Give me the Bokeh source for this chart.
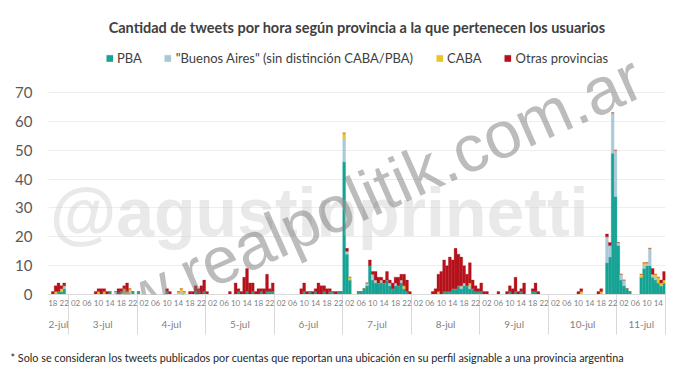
from bokeh.plotting import figure
from bokeh.models import (ColumnDataSource, FixedTicker, LinearAxis, Legend, LegendItem,
                          Title, Range1d, Label)
from bokeh.embed import file_html
from bokeh.resources import INLINE

# ---------------- data ----------------
days = ["2-jul", "3-jul", "4-jul", "5-jul", "6-jul", "7-jul", "8-jul", "9-jul", "10-jul", "11-jul"]
day_start_hour = [17, 0, 0, 0, 0, 0, 0, 0, 0, 0]
day_end_hour = [23, 23, 23, 23, 23, 23, 23, 23, 23, 16]

series_names = ["PBA", '"Buenos Aires" (sin distinción CABA/PBA)', "CABA", "Otras provincias"]

pba = [
    0, 0, 0, 1, 1, 2, 0,
    0, 0, 0, 0, 0, 0, 0, 0, 0, 0, 0, 0, 0, 0, 1, 0, 0, 0, 1, 0, 0, 0, 1, 0,
    1, 0, 0, 0, 0, 0, 0, 0, 0, 0, 1, 0, 0, 0, 0, 0, 0, 0, 0, 0, 1, 0, 0, 1,
    0, 0, 0, 0, 0, 0, 0, 0, 0, 0, 0, 1, 0, 0, 1, 0, 1, 0, 0, 1, 0, 1, 1, 1,
    0, 0, 0, 0, 0, 0, 0, 0, 0, 0, 1, 0, 1, 0, 1, 0, 0, 1, 0, 1, 1, 0, 1, 1,
    46, 14, 5, 0, 0, 1, 1, 2, 3, 10, 5, 4, 4, 4, 4, 5, 3, 2, 3, 3, 4, 2, 1, 0,
    0, 0, 0, 0, 0, 0, 0, 0, 0, 0, 0, 1, 1, 1, 2, 2, 3, 2, 3, 3, 2, 2, 1, 1,
    1, 0, 0, 0, 0, 0, 0, 0, 0, 0, 1, 0, 1, 0, 1, 0, 0, 0, 1, 1, 0, 0, 0, 0,
    0, 0, 0, 0, 0, 0, 0, 0, 0, 0, 0, 0, 0, 0, 0, 0, 0, 0, 0, 0, 11, 13, 49, 34,
    17, 5, 3, 2, 1, 0, 0, 0, 6, 9, 10, 10, 6, 5, 4, 3, 4,
]
buenos_aires = [
    0, 0, 0, 0, 0, 1, 0,
    0, 0, 0, 0, 0, 0, 0, 0, 0, 0, 0, 0, 0, 0, 0, 0, 1, 0, 0, 0, 0, 1, 0, 0,
    0, 0, 0, 0, 0, 0, 0, 0, 0, 0, 0, 0, 0, 0, 0, 1, 0, 0, 0, 0, 0, 0, 0, 0,
    0, 0, 0, 0, 0, 0, 0, 0, 0, 0, 0, 0, 0, 0, 0, 0, 0, 0, 0, 0, 0, 0, 0, 0,
    0, 0, 0, 0, 0, 0, 0, 0, 0, 0, 0, 0, 0, 0, 0, 0, 0, 0, 0, 0, 0, 0, 0, 0,
    8, 1, 0, 0, 0, 0, 0, 0, 1, 0, 2, 1, 0, 1, 0, 0, 1, 0, 1, 0, 1, 0, 0, 0,
    0, 0, 0, 0, 0, 0, 0, 0, 0, 0, 0, 0, 0, 0, 0, 0, 0, 1, 1, 0, 1, 0, 0, 0,
    0, 0, 0, 0, 0, 0, 0, 0, 0, 0, 0, 0, 0, 0, 0, 0, 0, 0, 0, 0, 0, 0, 0, 0,
    0, 0, 0, 0, 0, 0, 0, 0, 0, 0, 0, 0, 0, 0, 0, 0, 0, 0, 0, 0, 9, 4, 14, 16,
    1, 2, 2, 0, 0, 0, 0, 0, 0, 1, 1, 6, 1, 1, 0, 0, 0,
]
caba = [
    0, 0, 1, 0, 1, 0, 0,
    0, 0, 0, 0, 0, 0, 0, 0, 0, 0, 1, 0, 1, 0, 0, 0, 0, 0, 0, 2, 1, 1, 0, 0,
    0, 0, 0, 0, 0, 0, 0, 0, 0, 0, 0, 0, 0, 0, 1, 1, 1, 0, 0, 0, 0, 0, 0, 0,
    0, 0, 0, 0, 0, 0, 0, 0, 0, 0, 0, 0, 0, 0, 0, 0, 0, 0, 0, 0, 0, 0, 0, 0,
    0, 0, 0, 0, 0, 0, 0, 0, 0, 0, 0, 0, 0, 0, 0, 0, 0, 0, 0, 0, 0, 0, 0, 0,
    2, 0, 1, 0, 0, 0, 0, 0, 0, 0, 0, 0, 0, 0, 0, 0, 0, 0, 0, 0, 0, 1, 0, 0,
    0, 0, 0, 0, 0, 0, 0, 0, 0, 1, 0, 0, 0, 0, 0, 0, 0, 0, 0, 0, 1, 0, 0, 0,
    0, 0, 0, 0, 0, 0, 0, 0, 0, 0, 0, 0, 0, 0, 0, 0, 0, 0, 0, 0, 0, 0, 0, 0,
    0, 0, 0, 0, 0, 0, 0, 0, 0, 0, 0, 1, 0, 0, 0, 0, 0, 0, 1, 0, 0, 0, 0, 0,
    0, 0, 0, 0, 0, 0, 0, 0, 1, 1, 0, 0, 0, 1, 2, 1, 1,
]
otras = [
    0, 1, 2, 3, 1, 1, 0,
    0, 0, 0, 0, 0, 0, 0, 0, 0, 1, 1, 2, 1, 1, 0, 0, 0, 2, 1, 1, 3, 0, 0, 0,
    0, 0, 0, 0, 0, 0, 0, 0, 0, 0, 1, 1, 0, 0, 0, 0, 0, 0, 1, 1, 2, 2, 3, 4,
    1, 0, 0, 0, 0, 0, 0, 0, 1, 0, 4, 1, 1, 6, 8, 4, 3, 1, 2, 1, 2, 6, 1, 3,
    0, 0, 0, 0, 0, 0, 0, 0, 0, 2, 3, 1, 0, 1, 1, 4, 3, 2, 2, 1, 0, 1, 0, 0,
    0, 1, 0, 0, 0, 0, 0, 0, 0, 2, 1, 3, 2, 1, 1, 3, 1, 2, 2, 3, 2, 4, 4, 1,
    0, 0, 0, 0, 0, 0, 0, 1, 2, 6, 8, 11, 9, 12, 10, 14, 11, 10, 6, 4, 7, 3, 2, 1,
    3, 1, 1, 0, 0, 0, 1, 0, 0, 1, 2, 2, 5, 1, 1, 4, 0, 0, 1, 3, 1, 0, 0, 0,
    0, 0, 0, 0, 0, 0, 0, 0, 0, 0, 1, 1, 0, 0, 0, 0, 0, 1, 1, 0, 1, 1, 0, 0,
    0, 0, 0, 0, 0, 0, 0, 0, 0, 0, 0, 0, 2, 0, 0, 1, 3,
]

y_ticks = [0, 10, 20, 30, 40, 50, 60, 70]
title_text = "Cantidad de tweets por hora según provincia a la que pertenecen los usuarios"
footnote_text = ("* Solo se consideran los tweets publicados por cuentas que reportan una "
                 "ubicación en su perfil asignable a una provincia argentina")

# ---------------- derived axis positions ----------------
hours = []
day_first, day_last = [], []
for s, e in zip(day_start_hour, day_end_hour):
    day_first.append(len(hours))
    hours.extend(range(s, e + 1))
    day_last.append(len(hours) - 1)
n = len(hours)
x = list(range(n))

hour_ticks = [i for i, h in enumerate(hours) if h % 4 == 2]
hour_labels = {i: f"{hours[i]:02d}" for i in hour_ticks}
day_mids = [(a + b) / 2 for a, b in zip(day_first, day_last)]
day_labels = {m: d for m, d in zip(day_mids, days)}
separators = [a - 0.5 for a in day_first[1:]] + [n - 0.5]

colors = ["#16a394", "#a9c9d8", "#eac42a", "#b5121b"]
keys = ["pba", "ba", "caba", "otras"]
src = ColumnDataSource(dict(x=x, pba=pba, ba=buenos_aires, caba=caba, otras=otras))

FONT = "Lato"

p = figure(width=680, height=380, output_backend="svg", toolbar_location=None,
           x_range=Range1d(-0.5, n - 0.5), y_range=Range1d(0, 86),
           min_border_left=48, min_border_right=15, min_border_top=46, min_border_bottom=86,
           background_fill_color="white", border_fill_color="white")
p.outline_line_color = None

rs = p.vbar_stack(keys, x="x", width=1.0, color=colors, line_width=0.3, source=src)

# y axis
p.yaxis.ticker = FixedTicker(ticks=y_ticks)
p.yaxis.axis_line_color = None
p.yaxis.major_tick_line_color = None
p.yaxis.minor_tick_line_color = None
p.yaxis.major_label_text_font_size = "15px"
p.yaxis.major_label_text_color = "#595959"
p.yaxis.major_label_text_font = FONT
p.yaxis.major_label_standoff = 10
p.ygrid.ticker = FixedTicker(ticks=y_ticks)
p.ygrid.grid_line_color = "#eeeeee"
p.xgrid.grid_line_color = None

# hour axis (minor ticks draw the day separators)
xa = p.xaxis[0]
xa.ticker = FixedTicker(ticks=hour_ticks, minor_ticks=separators)
xa.major_label_overrides = hour_labels
xa.axis_line_color = "#d9d9d9"
xa.major_tick_line_color = None
xa.major_tick_out = 0
xa.major_tick_in = 0
xa.minor_tick_line_color = "#d9d9d9"
xa.minor_tick_out = 40
xa.minor_tick_in = 0
xa.major_label_text_font_size = "8px"
xa.major_label_text_color = "#7f7f7f"
xa.major_label_text_font = FONT
xa.major_label_standoff = -35

# day axis
da = LinearAxis(ticker=FixedTicker(ticks=day_mids, minor_ticks=[]),
                major_label_overrides=day_labels)
da.axis_line_color = None
da.major_tick_line_color = None
da.major_tick_out = 0
da.major_tick_in = 0
da.minor_tick_line_color = None
da.major_label_text_font_size = "10px"
da.major_label_text_color = "#7f7f7f"
da.major_label_text_font = FONT
da.major_label_standoff = 9
p.add_layout(da, "below")

# footnote
fn = Title(text=footnote_text, align="left", text_font_size="10.8px", text_color="#262626",
           text_font=FONT, text_font_style="normal", offset=-38, standoff=33)
p.add_layout(fn, "below")

# title
p.title.text = title_text
p.title.align = "center"
p.title.text_font = FONT
p.title.text_font_size = "14.5px"
p.title.text_font_style = "bold"
p.title.text_color = "#404040"
p.title.offset = -8
p.title.standoff = 22

legend = Legend(items=[LegendItem(label=nm, renderers=[r]) for nm, r in zip(series_names, rs)],
                orientation="horizontal", location="top",
                label_text_font=FONT, label_text_font_size="13px", label_text_color="#404040",
                glyph_width=8, glyph_height=8, label_standoff=4, spacing=22,
                padding=2, margin=4, border_line_color=None, background_fill_alpha=0)
p.add_layout(legend, "center")

# watermarks
p.add_layout(Label(x=0, y=28.5, text="@agustinprinetti", text_font="Liberation Sans",
                   text_font_size="68px", text_font_style="bold", text_color="#c8c8c8",
                   text_alpha=0.4, text_baseline="alphabetic"))
p.add_layout(Label(x=-4, y=-16, text="www.realpolitik.com.ar", angle=0.419,
                   text_font="Liberation Sans", text_font_size="66px",
                   text_color="#7a7a7a", text_alpha=0.5, text_baseline="alphabetic"))

open("out.html", "w").write(file_html(p, INLINE))
